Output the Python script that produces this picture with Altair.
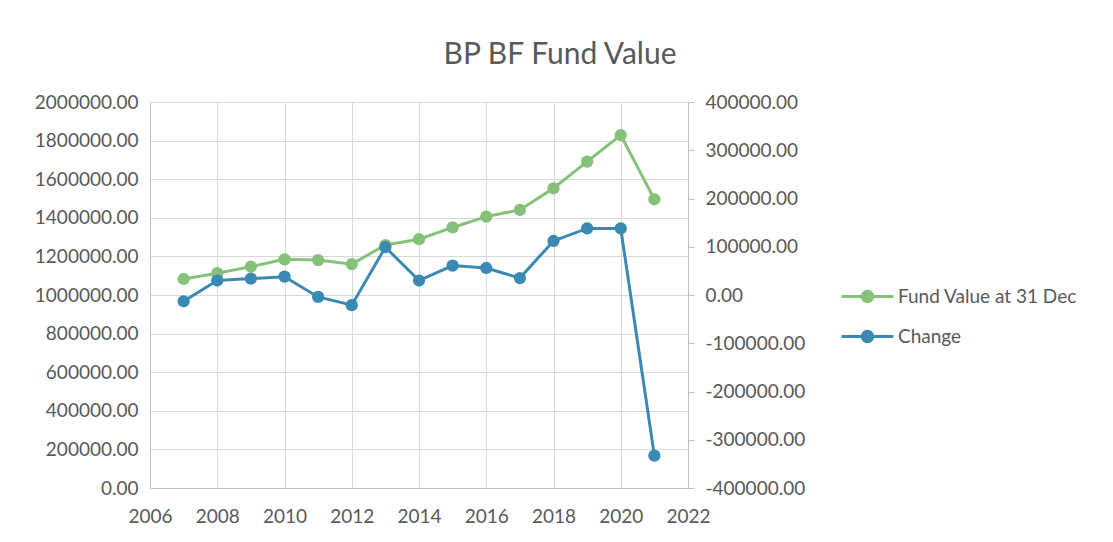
import altair as alt
import pandas as pd

years = list(range(2007, 2022))
fund_value = [1083000, 1113000, 1147000, 1185000, 1181000, 1160000, 1259000, 1289000,
              1350000, 1406000, 1441000, 1553000, 1691000, 1829000, 1496000]
change = [-13000, 30000, 34000, 38000, -4000, -21000, 99000, 30000,
          61000, 56000, 35000, 112000, 138000, 138000, -333000]

series_names = ["Fund Value at 31 Dec", "Change"]
series_colors = ["#86c17a", "#3a89b3"]
left_ticks = list(range(0, 2000001, 200000))
right_ticks = list(range(-400000, 400001, 100000))
x_ticks = list(range(2006, 2023, 2))

rows = []
for y, v in zip(years, fund_value):
    rows.append({"year": y, "value": v, "series": series_names[0]})
for y, v in zip(years, change):
    rows.append({"year": y, "value": v, "series": series_names[1]})
df = pd.DataFrame(rows)

TXT = "#595959"
GRID = "#d9d9d9"
AX = "#bfbfbf"
FONT = "Lato"

# legend symbol: line with a (stroke-filled) circle in the middle
circ = ""
for r in [0.08, 0.18, 0.28, 0.4]:
    circ += f"M{r},0A{r},{r} 0 1,1 {-r},0A{r},{r} 0 1,1 {r},0"
symbol_path = "M-2,0L2,0" + circ

color = alt.Color(
    "series:N",
    scale=alt.Scale(domain=series_names, range=series_colors),
    sort=series_names,
    legend=alt.Legend(
        title=None, orient="none", legendX=703, legendY=180, padding=0,
        symbolType=symbol_path, symbolSize=676, symbolStrokeWidth=3,
        labelFont=FONT, labelFontSize=19, labelColor=TXT, labelOffset=16,
        rowPadding=14, labelLimit=300,
    ),
)

x = alt.X(
    "year:Q",
    scale=alt.Scale(domain=[2006, 2022], nice=False, zero=False),
    axis=alt.Axis(values=x_ticks, format="d", ticks=False, grid=True, gridColor=GRID,
                  domainColor=AX, labelFont=FONT, labelFontSize=19, labelColor=TXT,
                  labelPadding=19, title=None, labelFlush=False),
)

base = alt.Chart(df)

fund = base.transform_filter(alt.datum.series == series_names[0]).mark_line(
    strokeWidth=3, point=alt.OverlayMarkDef(filled=True, size=150, opacity=1)
).encode(
    x=x,
    y=alt.Y("value:Q", scale=alt.Scale(domain=[0, 2000000], nice=False),
            axis=alt.Axis(values=left_ticks, format=".2f", ticks=False, grid=True,
                          gridColor=GRID, domainColor=AX, labelFont=FONT, labelFontSize=19,
                          labelColor=TXT, labelPadding=12, title=None)),
    color=color,
)

chg = base.transform_filter(alt.datum.series == series_names[1]).mark_line(
    strokeWidth=3, point=alt.OverlayMarkDef(filled=True, size=150, opacity=1)
).encode(
    x=x,
    y=alt.Y("value:Q", scale=alt.Scale(domain=[-400000, 400000], nice=False, zero=False),
            axis=alt.Axis(orient="right", values=right_ticks, grid=False, tickSize=6,
                          tickColor=AX, domainColor=AX, labelFont=FONT, labelFontSize=19,
                          labelColor=TXT, labelPadding=11, title=None,
                          labelExpr="replace(format(datum.value, '.2f'), '\u2212', '-')")),
    color=color,
)

chart = alt.layer(fund, chg).resolve_scale(y="independent").properties(
    width=538, height=386,
    autosize=alt.AutoSizeParams(type="none"),
    padding={"left": 142, "top": 94, "right": 417, "bottom": 46},
    title=alt.TitleParams("BP BF Fund Value", font=FONT, fontSize=30, fontWeight="normal",
                          color=TXT, anchor="middle", dx=141, offset=23),
).configure_view(strokeOpacity=0).configure(font=FONT, background="white")

chart.save("out.html", embed_options={"renderer": "svg", "actions": False})
